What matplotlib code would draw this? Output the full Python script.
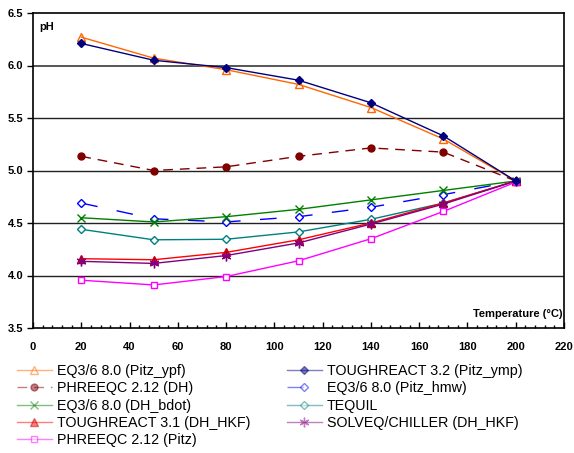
import matplotlib
matplotlib.use("Agg")
import matplotlib.pyplot as plt
from matplotlib.ticker import MultipleLocator

temperature = [20, 50, 80, 110, 140, 170, 200]

eq36_pitz_ypf = [6.27, 6.07, 5.96, 5.82, 5.60, 5.30, 4.90]
toughreact32_pitz_ymp = [6.21, 6.05, 5.98, 5.86, 5.645, 5.33, 4.90]
phreeqc_dh = [5.135, 5.00, 5.035, 5.135, 5.215, 5.175, 4.90]
eq36_pitz_hmw = [4.69, 4.54, 4.51, 4.56, 4.65, 4.77, 4.90]
eq36_dh_bdot = [4.55, 4.51, 4.56, 4.63, 4.72, 4.81, 4.90]
tequil = [4.44, 4.34, 4.345, 4.415, 4.535, 4.69, 4.90]
toughreact31_dh_hkf = [4.16, 4.15, 4.22, 4.34, 4.50, 4.69, 4.90]
solveq_chiller = [4.135, 4.115, 4.19, 4.31, 4.49, 4.68, 4.90]
phreeqc_pitz = [3.955, 3.91, 3.99, 4.14, 4.35, 4.61, 4.89]

labels = [
    "EQ3/6 8.0 (Pitz_ypf)",
    "TOUGHREACT 3.2 (Pitz_ymp)",
    "PHREEQC 2.12 (DH)",
    "EQ3/6 8.0 (Pitz_hmw)",
    "EQ3/6 8.0 (DH_bdot)",
    "TEQUIL",
    "TOUGHREACT 3.1 (DH_HKF)",
    "SOLVEQ/CHILLER (DH_HKF)",
    "PHREEQC 2.12 (Pitz)",
]

fig = plt.figure(figsize=(5.74, 4.53), dpi=100)
ax = fig.add_axes([33 / 574, 1 - 328 / 453, 531 / 574, 315 / 453])

for y in [4.0, 4.5, 5.0, 5.5, 6.0]:
    ax.axhline(y, color="#555555" if y == 6.0 else "#222222", lw=1.0 if y != 6.0 else 1.4, zorder=1)

h = {}
h[0], = ax.plot(temperature, eq36_pitz_ypf, color="#FF6600", lw=1.0, marker="^", ms=6,
                mfc="none", mec="#FF6600", label=labels[0], zorder=3)
h[1], = ax.plot(temperature, toughreact32_pitz_ymp, color="#000080", lw=1.0, marker="D", ms=4.5,
                mfc="#000080", mec="#000080", label=labels[1], zorder=4)
h[2], = ax.plot(temperature, phreeqc_dh, color="#800000", lw=1.0, ls=(0, (7, 5)), marker="o", ms=5,
                mfc="#800000", mec="#800000", label=labels[2], zorder=3)
h[3], = ax.plot(temperature, eq36_pitz_hmw, color="#0000FF", lw=1.0, ls=(0, (12, 14)), marker="D", ms=4.5,
                mfc="white", mec="#0000FF", label=labels[3], zorder=3)
h[4], = ax.plot(temperature, eq36_dh_bdot, color="#008000", lw=1.0, marker="x", ms=6,
                mec="#008000", label=labels[4], zorder=3)
h[5], = ax.plot(temperature, tequil, color="#008080", lw=1.0, marker="D", ms=4.5,
                mfc="white", mec="#008080", label=labels[5], zorder=3)
h[6], = ax.plot(temperature, toughreact31_dh_hkf, color="#FF0000", lw=1.0, marker="^", ms=6,
                mfc="#FF0000", mec="#CC0000", label=labels[6], zorder=3)
h[7], = ax.plot(temperature, solveq_chiller, color="#800080", lw=1.0, marker=(6, 2, 0), ms=7,
                mec="#800080", label=labels[7], zorder=3)
h[8], = ax.plot(temperature, phreeqc_pitz, color="#FF00FF", lw=1.0, marker="s", ms=5,
                mfc="white", mec="#FF00FF", label=labels[8], zorder=3)

ax.set_xlim(0, 220)
ax.set_ylim(3.5, 6.5)
ax.xaxis.set_major_locator(MultipleLocator(20))
ax.xaxis.set_minor_locator(MultipleLocator(4))
ax.yaxis.set_major_locator(MultipleLocator(0.5))
ax.tick_params(axis="x", which="major", direction="in", length=4, width=1, pad=10)
ax.tick_params(axis="x", which="minor", direction="in", length=2.5, width=1)
ax.tick_params(axis="y", which="major", direction="out", length=4, width=1, pad=3)
ax.set_yticklabels([f"{v:.1f}" for v in ax.get_yticks()])
for lab in ax.get_xticklabels() + ax.get_yticklabels():
    lab.set_fontweight("bold")
    lab.set_fontsize(8)
    lab.set_fontfamily("Liberation Sans")
for s in ax.spines.values():
    s.set_linewidth(1.2)
    s.set_color("black")

ax.text(0.012, 0.955, "pH", transform=ax.transAxes, fontsize=8, fontweight="bold",
        family="Liberation Sans", va="center", ha="left")
ax.text(0.998, 0.045, "Temperature (°C)", transform=ax.transAxes, fontsize=8, fontweight="bold",
        family="Liberation Sans", va="center", ha="right")

order = [0, 2, 4, 6, 8, 1, 3, 5, 7]
handles = [h[i] for i in order]
leg = fig.legend(handles, [labels[i] for i in order], loc="upper left",
                 bbox_to_anchor=(11 / 574, 1 - 358 / 453), ncol=2, frameon=False,
                 prop={"family": "Liberation Sans", "size": 10.3},
                 handlelength=2.45, handletextpad=0.35, columnspacing=2.55,
                 labelspacing=0.24, borderaxespad=0)
for lh in leg.legend_handles:
    lh.set_alpha(0.5)

fig.savefig("out.png", dpi=100)
